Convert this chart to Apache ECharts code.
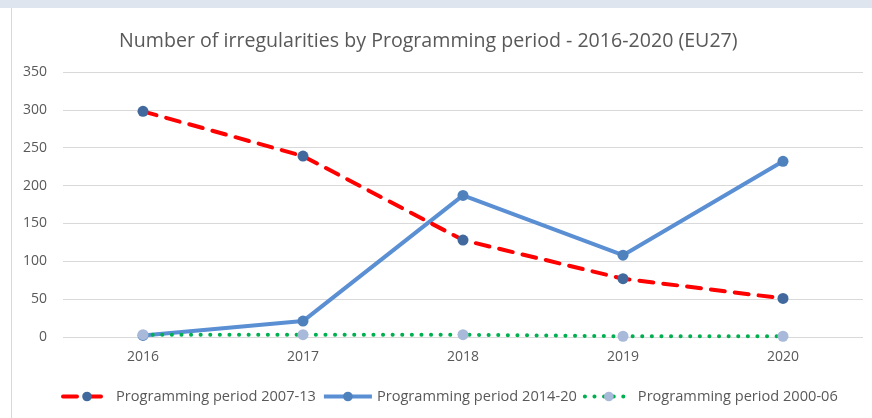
<!DOCTYPE html>
<html>
<head>
<meta charset="utf-8">
<script src="https://cdn.jsdelivr.net/npm/echarts@6/dist/echarts.min.js"></script>
<style>
  html, body { margin: 0; padding: 0; background: #fff; }
  #main { width: 872px; height: 418px; }
</style>
</head>
<body>
<div id="main"></div>
<script>
// data
var years = ['2016', '2017', '2018', '2019', '2020'];
var period2007 = [298, 239, 128, 77, 51];
var period2014 = [2, 21, 187, 108, 232];
var period2000 = [3, 3, 3, 1, 1];
var yTicks = [0, 50, 100, 150, 200, 250, 300, 350];

var chart = echarts.init(document.getElementById('main'));
var font = 'Open Sans';

var option = {
  animation: false,
  backgroundColor: '#fff',
  title: {
    text: 'Number of irregularities by Programming period - 2016-2020 (EU27)',
    left: 114,
    top: 26,
    textStyle: { fontFamily: font, fontSize: 19.6, fontWeight: 'normal', color: '#595959' }
  },
  graphic: [
    { type: 'rect', shape: { x: 0, y: 0, width: 872, height: 8 }, style: { fill: '#dfe5ee' } },
    { type: 'line', shape: { x1: 11.5, y1: 8, x2: 11.5, y2: 418 }, style: { stroke: '#d9d9d9', lineWidth: 1 } }
  ],
  legend: {
    bottom: 9,
    left: 56,
    itemWidth: 48,
    itemHeight: 12,
    itemGap: 6,
    lineStyle: { width: 4 },
    textStyle: { fontFamily: font, fontSize: 14.6, color: '#595959' },
    data: ['Programming period 2007-13', 'Programming period 2014-20', 'Programming period 2000-06']
  },
  grid: { left: 63, right: 9, top: 72, bottom: 81 },
  xAxis: {
    type: 'category',
    data: years,
    boundaryGap: true,
    axisLine: { show: false },
    axisTick: { show: false },
    axisLabel: { fontFamily: font, fontSize: 14, color: '#595959', margin: 13 }
  },
  yAxis: {
    type: 'value',
    min: yTicks[0],
    max: yTicks[yTicks.length - 1],
    interval: 50,
    axisLine: { show: false },
    axisTick: { show: false },
    axisLabel: { fontFamily: font, fontSize: 14, color: '#595959', margin: 16 },
    splitLine: { lineStyle: { color: '#d9d9d9', width: 1 } }
  },
  series: [
    {
      name: 'Programming period 2007-13',
      type: 'line',
      data: period2007,
      symbol: 'circle',
      symbolSize: 11,
      itemStyle: { color: '#41699d' },
      lineStyle: { color: '#ff0000', width: 4, type: [14, 10], cap: 'round' },
      z: 3
    },
    {
      name: 'Programming period 2014-20',
      type: 'line',
      data: period2014,
      symbol: 'circle',
      symbolSize: 11,
      itemStyle: { color: '#4f81bd' },
      lineStyle: { color: '#5a8fd3', width: 4 },
      z: 2
    },
    {
      name: 'Programming period 2000-06',
      type: 'line',
      data: period2000,
      symbol: 'circle',
      symbolSize: 11,
      itemStyle: { color: '#a9b9d9' },
      lineStyle: { color: '#00b050', width: 4, type: [0.1, 9.5], cap: 'round' },
      z: 4
    }
  ]
};
chart.setOption(option);
</script>
</body>
</html>
